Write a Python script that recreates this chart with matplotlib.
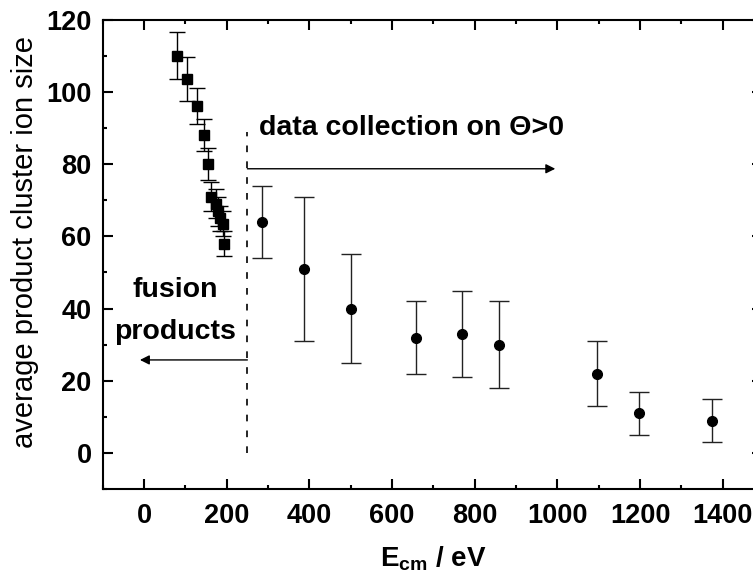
import matplotlib
matplotlib.use("Agg")
import matplotlib.pyplot as plt
from matplotlib.ticker import MultipleLocator

plt.rcParams['font.family'] = ['Liberation Sans', 'DejaVu Sans']
plt.rcParams['mathtext.fontset'] = 'custom'
plt.rcParams['mathtext.rm'] = 'Liberation Sans:bold'
plt.rcParams['mathtext.bf'] = 'Liberation Sans:bold'
plt.rcParams['mathtext.it'] = 'Liberation Sans:bold'

# fusion products (squares)
e_fus = [79, 103, 128, 145, 155, 163, 173, 179, 184, 190, 194]
size_fus = [110, 103.5, 96, 88, 80, 71, 69, 67, 65, 63.5, 58]
err_fus = [6.5, 6, 5, 4.5, 4.5, 4, 4, 4, 3.5, 3.5, 3.5]

# data collection on theta > 0 (circles)
e_coll = [286, 386, 500, 659, 769, 859, 1097, 1197, 1373]
size_coll = [64, 51, 40, 32, 33, 30, 22, 11, 9]
err_coll = [10, 20, 15, 10, 12, 12, 9, 6, 6]

xticks = [0, 200, 400, 600, 800, 1000, 1200, 1400]
yticks = [0, 20, 40, 60, 80, 100, 120]

fig = plt.figure(figsize=(7.53, 5.86), dpi=100)
ax = fig.add_axes([0.1364, 0.1650, 0.8782, 0.8017])

ax.errorbar(e_fus, size_fus, yerr=err_fus, fmt='s', color='black', ms=7,
            elinewidth=1, capsize=5.5, capthick=1)
ax.errorbar(e_coll, size_coll, yerr=err_coll, fmt='o', color='black', ms=7,
            elinewidth=1, capsize=7, capthick=1, ecolor='#222222')

# dashed separator and arrows
ax.plot([250, 250], [0, 89], color='black', lw=1.2, linestyle=(0, (4, 5.5)))
ax.annotate('', xy=(995, 78.7), xytext=(250, 78.7),
            arrowprops=dict(arrowstyle='-|>', color='black', lw=1,
                            mutation_scale=14, shrinkA=0, shrinkB=0))
ax.annotate('', xy=(-10, 25.8), xytext=(250, 25.8),
            arrowprops=dict(arrowstyle='-|>', color='black', lw=1,
                            mutation_scale=14, shrinkA=0, shrinkB=0))

ax.text(277, 88, 'data collection on Θ>0', fontsize=20.5, fontweight='bold',
        ha='left', va='baseline')
ax.text(76, 43.2, 'fusion', fontsize=20.5, fontweight='bold',
        ha='center', va='baseline')
ax.text(76, 31.6, 'products', fontsize=20.5, fontweight='bold',
        ha='center', va='baseline')

ax.set_xlim(-100, 1500)
ax.set_ylim(-10, 120)
ax.set_xticks(xticks)
ax.set_yticks(yticks)
ax.xaxis.set_minor_locator(MultipleLocator(100))
ax.yaxis.set_minor_locator(MultipleLocator(10))

ax.tick_params(which='both', direction='in', top=True, right=True, width=1.5)
ax.tick_params(which='major', length=7)
ax.tick_params(which='minor', length=3)
ax.tick_params(axis='x', which='major', pad=10)
ax.tick_params(axis='y', which='major', pad=8)
for tl in ax.yaxis.get_major_ticks():
    tl.tick2line.set_markersize(9)
for lab in ax.get_xticklabels() + ax.get_yticklabels():
    lab.set_fontsize(19.5)
    lab.set_fontweight('bold')
for s in ax.spines.values():
    s.set_linewidth(1.5)

ax.set_xlabel(r'$\mathbf{E}_{\mathbf{cm}}$ / eV', fontsize=20, fontweight='bold',
              labelpad=11)
fig.text(25 / 753, 1 - 242 / 586, 'average product cluster ion size',
         rotation=90, fontsize=21, ha='center', va='center')

fig.savefig('out.png', dpi=100)
